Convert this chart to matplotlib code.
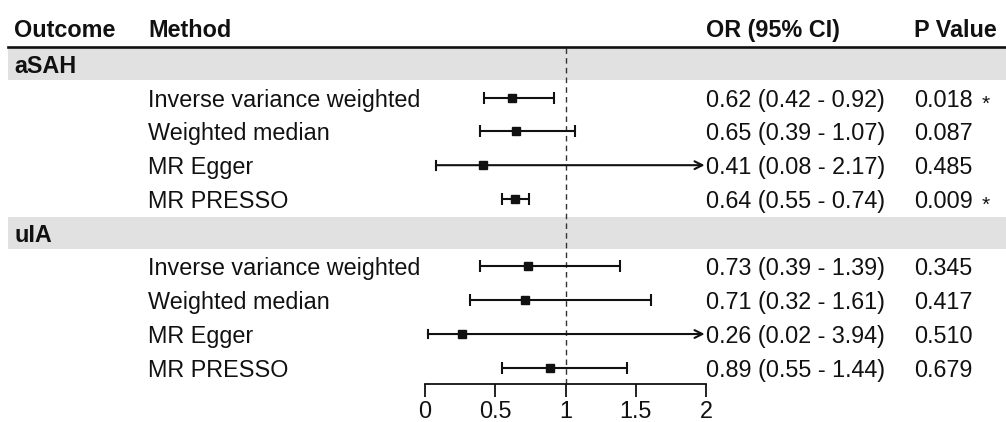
import matplotlib
matplotlib.use("Agg")
import matplotlib.pyplot as plt
import matplotlib.transforms as mtransforms
from matplotlib.patches import Rectangle
from matplotlib.lines import Line2D

plt.rcParams['font.family'] = ['Liberation Sans', 'DejaVu Sans']

# data
outcomes = ["aSAH", "uIA"]
methods = ["Inverse variance weighted", "Weighted median", "MR Egger", "MR PRESSO"]
or_vals = [[0.62, 0.65, 0.41, 0.64], [0.73, 0.71, 0.26, 0.89]]
ci_low = [[0.42, 0.39, 0.08, 0.55], [0.39, 0.32, 0.02, 0.55]]
ci_high = [[0.92, 1.07, 2.17, 0.74], [1.39, 1.61, 3.94, 1.44]]
p_vals = [["0.018", "0.087", "0.485", "0.009"], ["0.345", "0.417", "0.510", "0.679"]]
p_sig = [[True, False, False, True], [False, False, False, False]]
headers = ["Outcome", "Method", "OR (95% CI)", "P Value"]
x_ticks = [0, 0.5, 1, 1.5, 2]
x_tick_labels = ["0", "0.5", "1", "1.5", "2"]

W, H = 1006, 422
fs = 16.8
txt_col = "#111111"
band_col = "#e1e1e1"

fig = plt.figure(figsize=(W / 100, H / 100), dpi=100)
ax = fig.add_axes([425 / W, 1 - 384 / H, 281 / W, (384 - 47) / H])
xmax = 2
ax.set_xlim(0, xmax)
n_rows = len(outcomes) * (len(methods) + 1)
ax.set_ylim(n_rows + 0.48, 0.5)

blend = mtransforms.blended_transform_factory(fig.transFigure, ax.transData)
col_x = [14 / W, 148 / W, 706 / W, 914 / W]

# header
for hx, h in zip(col_x, headers):
    ax.text(hx, -0.05, h, transform=blend, fontsize=fs, fontweight="bold",
            va="center_baseline", ha="left", color=txt_col)
fig.add_artist(Line2D([8 / W, 1], [0.49, 0.49], transform=blend, color="#111111", lw=1.9))

ax.axvline(1, color="#333333", lw=1.0, ls=(0, (4, 3)), zorder=1)

row = 1
for g, name in enumerate(outcomes):
    fig.add_artist(Rectangle((8 / W, row - 0.47), 1 - 8 / W, 0.95, transform=blend,
                             facecolor=band_col, edgecolor="none", zorder=0))
    ax.text(col_x[0], row, name, transform=blend, fontsize=fs, fontweight="bold",
            va="center_baseline", ha="left", color=txt_col)
    row += 1
    for i, m in enumerate(methods):
        lo, hi, est = ci_low[g][i], ci_high[g][i], or_vals[g][i]
        ax.text(col_x[1], row, m, transform=blend, fontsize=fs,
                va="center_baseline", ha="left", color=txt_col)
        ax.text(col_x[2], row, f"{est:.2f} ({lo:.2f} - {hi:.2f})", transform=blend,
                fontsize=fs, va="center_baseline", ha="left", color=txt_col)
        ax.text(col_x[3], row, p_vals[g][i], transform=blend, fontsize=fs,
                va="center_baseline", ha="left", color=txt_col)
        if p_sig[g][i]:
            ax.annotate("*", xy=(982 / W, row), xycoords=blend, xytext=(0, -3.5),
                        textcoords="offset points", fontsize=15, ha="left",
                        va="center_baseline", color=txt_col)
        if hi > xmax:
            ax.annotate("", xy=(xmax, row), xytext=(lo, row),
                        arrowprops=dict(arrowstyle="->", lw=1.5, color="#111111",
                                        shrinkA=0, shrinkB=1, mutation_scale=14))
            ax.plot([lo, lo], [row - 0.13, row + 0.13], color="#111111", lw=1.5)
        else:
            ax.errorbar(est, row, xerr=[[est - lo], [hi - est]], fmt="none",
                        ecolor="#111111", elinewidth=1.5, capsize=4.5, capthick=1.5)
        ax.plot(est, row, marker="s", ms=6, color="#111111", zorder=3)
        row += 1

for s in ["top", "left", "right"]:
    ax.spines[s].set_visible(False)
ax.spines["bottom"].set_bounds(0, xmax)
ax.spines["bottom"].set_linewidth(1.3)
ax.spines["bottom"].set_color("#111111")
ax.set_xticks(x_ticks)
ax.set_xticklabels(x_tick_labels, fontsize=fs, color=txt_col)
ax.tick_params(axis="x", length=9.5, width=1.3, pad=2, color="#111111")
ax.set_yticks([])
ax.patch.set_alpha(0)

fig.savefig("out.png", dpi=100)
